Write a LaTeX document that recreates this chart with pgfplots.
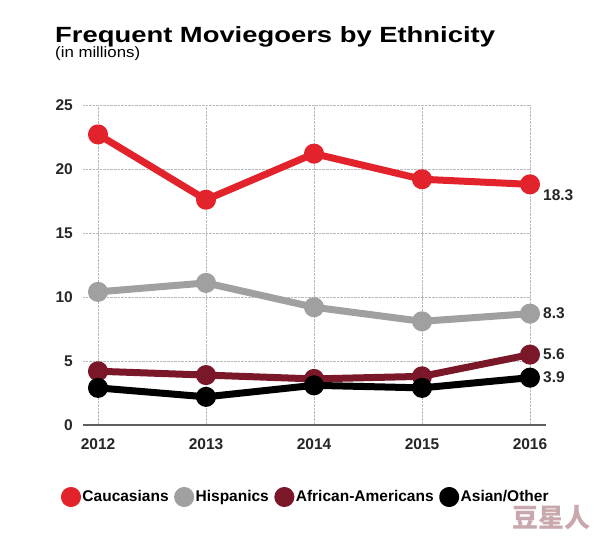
\documentclass[border=0pt]{standalone}
\usepackage{fontspec}
\setmainfont{Liberation Sans}
\newfontfamily\titlefont[FakeStretch=1.245]{Liberation Sans}
\newfontfamily\subfont[FakeStretch=1.12]{Liberation Sans}
\newfontfamily\cjk{Noto Sans CJK SC}
\usepackage{pgfplots}
\pgfplotsset{compat=1.18}
\definecolor{cred}{RGB}{226,35,44}
\definecolor{cgray}{RGB}{160,160,160}
\definecolor{cmaroon}{RGB}{122,24,42}
\definecolor{axisgray}{RGB}{95,95,95}
\definecolor{wm}{RGB}{200,168,172}
\begin{document}
\begin{tikzpicture}
\path[use as bounding box] (-83bp,-111bp) rectangle (511bp,425bp);
\node[anchor=base west, inner sep=0pt] at (-28bp,382bp) {\titlefont\bfseries\fontsize{22bp}{26bp}\selectfont Frequent Moviegoers by Ethnicity};
\node[anchor=base west, inner sep=0pt] at (-28bp,367bp) {\subfont\fontsize{15bp}{18bp}\selectfont (in millions)};
\begin{axis}[
  at={(0,0)}, anchor=south west,
  scale only axis, width=447bp, height=320bp,
  xmin=2011.861, xmax=2016, ymin=0, ymax=25,
  clip=false,
  axis line style={draw=none},
  major tick length=0pt,
  xtick={2012,2013,2014,2015,2016},
  xticklabels={2012,2013,2014,2015,2016},
  ytick={0,5,10,15,20,25},
  xmajorgrids, ymajorgrids,
  major grid style={densely dotted, gray!55, line width=0.6bp},
  /pgf/number format/assume math mode=true,
  tick label style={font=\bfseries\fontsize{15.5bp}{18bp}\selectfont, text=black!85},
  xticklabel style={anchor=north, inner ysep=0pt, yshift=-13bp},
  yticklabel style={anchor=east, inner xsep=0pt, xshift=-10bp},
  legend columns=4,
  legend style={at={(axis description cs:0.4978,-0.225)}, anchor=center, draw=none, fill=none,
    font=\bfseries\fontsize{15.5bp}{18bp}\selectfont,
    nodes={inner xsep=1.5bp, inner ysep=1bp},
    /tikz/every even column/.append style={column sep=4bp}},
  legend image code/.code={\fill[#1] (0bp,0bp) circle (6.5bp);},
  every axis plot/.append style={line width=7bp, line join=round, mark=*, mark size=6.5bp},
]
\addplot[color=cred, mark options={draw=none, fill=cred}] coordinates {(2012,22.7) (2013,17.6) (2014,21.2) (2015,19.2) (2016,18.8)};
\addlegendentry{Caucasians}
\addplot[color=cgray, mark options={draw=none, fill=cgray}] coordinates {(2012,10.4) (2013,11.1) (2014,9.2) (2015,8.1) (2016,8.7)};
\addlegendentry{Hispanics}
\addplot[color=cmaroon, mark options={draw=none, fill=cmaroon}] coordinates {(2012,4.2) (2013,3.9) (2014,3.6) (2015,3.8) (2016,5.5)};
\addlegendentry{African-Americans}
\addplot[color=black, mark options={draw=none, fill=black}] coordinates {(2012,2.9) (2013,2.2) (2014,3.1) (2015,2.9) (2016,3.7)};
\addlegendentry{Asian/Other}
\draw[axisgray, line width=1.5bp] (rel axis cs:0,0) -- ([xshift=16bp]rel axis cs:1,0);
\begin{scope}[every node/.style={anchor=west, inner sep=0pt, font=\bfseries\fontsize{15.5bp}{18bp}\selectfont, text=black!85}]
\node at ([xshift=13bp,yshift=-11bp]axis cs:2016,18.8) {18.3};
\node at ([xshift=13bp]axis cs:2016,8.7) {8.3};
\node at ([xshift=13bp]axis cs:2016,5.5) {5.6};
\node at ([xshift=13bp]axis cs:2016,3.7) {3.9};
\end{scope}
\end{axis}
\node[inner sep=0pt, text=wm] at (468bp,-93bp) {\cjk\bfseries\fontsize{26bp}{28bp}\selectfont 豆星人};
\end{tikzpicture}
\end{document}
